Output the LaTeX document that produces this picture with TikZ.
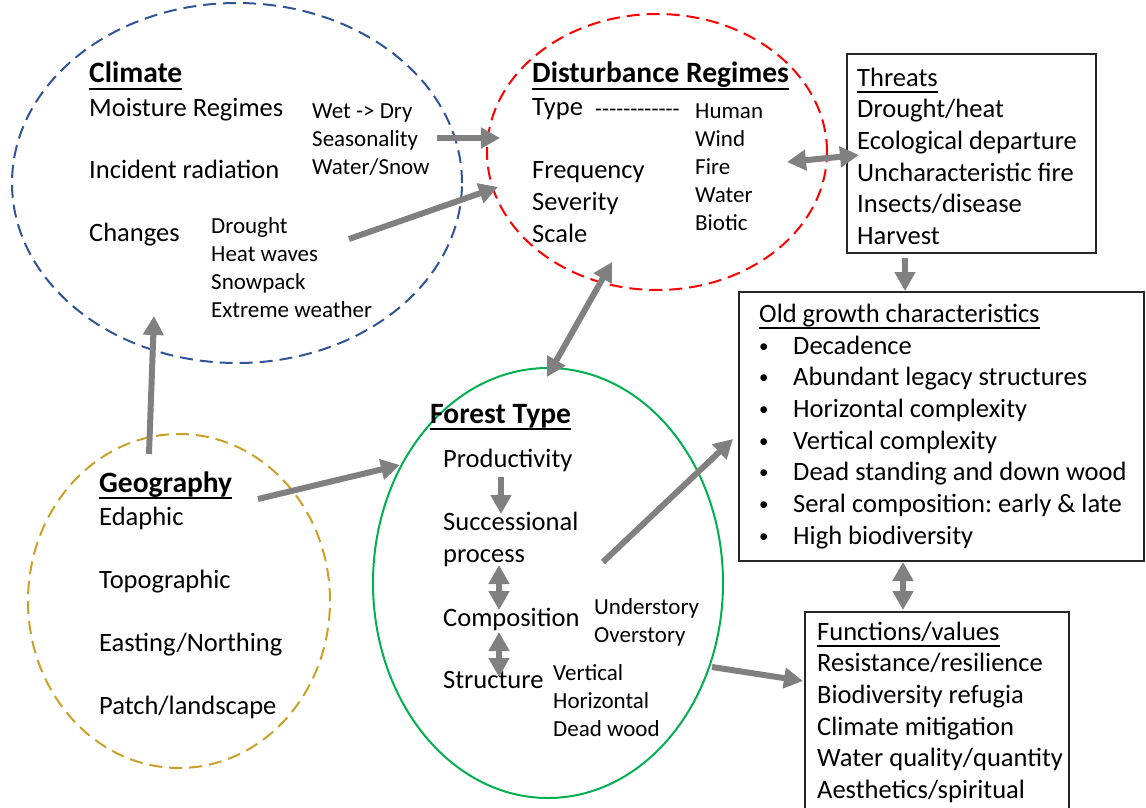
\documentclass[tikz,border=0pt]{standalone}
\usepackage{fontspec}
\setmainfont{Carlito}
\usetikzlibrary{shapes.geometric,arrows.meta}
\definecolor{climblue}{RGB}{47,85,151}
\definecolor{distred}{RGB}{255,0,0}
\definecolor{geogold}{RGB}{201,160,40}
\definecolor{forgreen}{RGB}{0,176,80}
\definecolor{arrgray}{RGB}{128,128,128}
\newsavebox{\ulbox}
\newcommand{\ulin}[1]{\sbox{\ulbox}{#1}\rlap{\vrule width\wd\ulbox height -5pt depth 6.6pt}\usebox{\ulbox}}
\frenchspacing

\begin{document}
\begin{tikzpicture}[x=1pt, y=-1pt,
	txt/.style={anchor=base west, inner sep=0pt, font=\fontsize{26.5}{31.7}\selectfont},
	sml/.style={anchor=base west, inner sep=0pt, font=\fontsize{23}{28}\selectfont},
	hd/.style={anchor=base west, inner sep=0pt, font=\fontsize{29.5}{34}\selectfont\bfseries},
	oval/.style={ellipse, inner sep=0pt, line width=2pt, dash pattern=on 13pt off 7pt},
	box/.style={rectangle, draw=black!85, line width=1.8pt, inner sep=0pt},
	arr/.style={draw=arrgray, line width=6pt, -{Triangle[length=19pt,width=20pt]}},
	darr/.style={draw=arrgray, line width=6pt, {Triangle[length=19pt,width=20pt]}-{Triangle[length=19pt,width=20pt]}}]
	
	\useasboundingbox (0,0) rectangle (1146,808);
	
	% ovals and boxes
	\node[oval, draw=climblue, minimum width=450pt, minimum height=360pt] (climate) at (237,183) {};
	\node[oval, draw=distred, minimum width=340pt, minimum height=276pt] (dist) at (657,152) {};
	\node[oval, draw=geogold, minimum width=302pt, minimum height=334pt] (geo) at (179,601) {};
	\node[ellipse, inner sep=0pt, draw=forgreen, line width=2pt, minimum width=350pt, minimum height=430pt] (forest) at (548,583) {};
	\node[box, minimum width=249pt, minimum height=199pt] (threats) at (971.5,153.5) {};
	\node[box, line width=2.6pt, minimum width=405pt, minimum height=269pt] (old) at (941.5,426.5) {};
	\node[box, minimum width=264pt, minimum height=218pt] (func) at (937,721) {};
	
	% Climate
	\node[hd] (climhd) at (89,83) {\ulin{Climate}};
	\foreach \t [count=\i from 0] in {Moisture Regimes, Incident radiation, Changes}
		\node[txt] (clim\i) at (89,{116+62.7*\i}) {\t};
	\foreach \t [count=\i from 0] in {Wet -> Dry, Seasonality, Water/Snow}
		\node[sml] (moist\i) at (312,{118+28*\i}) {\t};
	\foreach \t [count=\i from 0] in {Drought, Heat waves, Snowpack, Extreme weather}
		\node[sml] (chg\i) at (211,{233+28.3*\i}) {\t};
	
	% Disturbance regimes
	\node[hd] (disthd) at (532,83) {\ulin{Disturbance Regimes}};
	\node[txt] (type) at (532,115) {Type};
	\node[sml] (typedash) at (595,117) {-{}-{}-{}-{}-{}-{}-{}-{}-{}-{}-{}-};
	\foreach \t [count=\i from 0] in {Frequency, Severity, Scale}
		\node[txt] (freq\i) at (532,{178+32*\i}) {\t};
	\foreach \t [count=\i from 0] in {Human, Wind, Fire, Water, Biotic}
		\node[sml] (agent\i) at (695,{118+28.2*\i}) {\t};
	
	% Threats
	\node[txt] (thrhd) at (857,86) {\ulin{Threats}};
	\foreach \t [count=\i] in {Drought/heat, Ecological departure, Uncharacteristic fire, Insects/disease, Harvest}
		\node[txt] (thr\i) at (857,{86+31.7*\i}) {\t};
	
	% Old growth
	\node[txt] (oldhd) at (759,322) {\ulin{Old growth characteristics}};
	\foreach \t [count=\i from 0] in {Decadence, Abundant legacy structures, Horizontal complexity, Vertical complexity, Dead standing and down wood, Seral composition: early \& late, High biodiversity} {
		\node[txt, font=\fontsize{19}{20}\selectfont] (bul\i) at (759,{352+31.7*\i}) {•};
		\node[txt] (old\i) at (793,{354+31.7*\i}) {\t};
	}
	
	% Functions
	\node[txt] (funchd) at (817,640) {\ulin{Functions/values}};
	\foreach \t [count=\i] in {Resistance/resilience, Biodiversity refugia, Climate mitigation, Water quality/quantity, Aesthetics/spiritual}
		\node[txt] (fun\i) at (817,{640+31.7*\i}) {\t};
	
	% Geography
	\node[hd] (geohd) at (99,492) {\ulin{Geography}};
	\foreach \t [count=\i from 0] in {Edaphic, Topographic, Easting/Northing, Patch/landscape}
		\node[txt] (geo\i) at (99,{525+63.3*\i}) {\t};
	
	% Forest type
	\node[hd] (forhd) at (430,423) {\ulin{Forest Type}};
	\node[txt] (prod) at (443,467) {Productivity};
	\node[txt] (succ) at (443,530) {Successional};
	\node[txt] (proc) at (443,562) {process};
	\node[txt] (comp) at (443,626) {Composition};
	\node[txt] (struc) at (443,688) {Structure};
	\node[sml] (under) at (594,614) {Understory};
	\node[sml] (over) at (594,642) {Overstory};
	\foreach \t [count=\i from 0] in {Vertical, Horizontal, Dead wood}
		\node[sml] (str\i) at (553,{680+28*\i}) {\t};
	
	% arrow ends
	\coordinate (a1) at (437,138);   \coordinate (b1) at (500,138);
	\coordinate (a2) at (349,239);   \coordinate (b2) at (498,187);
	\coordinate (a3) at (787,162);   \coordinate (b3) at (859,155);
	\coordinate (a4) at (612,262);   \coordinate (b4) at (547,377);
	\coordinate (a5) at (905,258);   \coordinate (b5) at (905,291);
	\coordinate (a6) at (149,454);   \coordinate (b6) at (154,316);
	\coordinate (a7) at (258,499);   \coordinate (b7) at (400,465);
	\coordinate (a8) at (603,562);   \coordinate (b8) at (733,439);
	\coordinate (a9) at (903,562);   \coordinate (b9) at (903,610);
	\coordinate (a10) at (712,667);  \coordinate (b10) at (803,681);
	\coordinate (a11) at (501,477);  \coordinate (b11) at (501,514);
	\coordinate (a12) at (499,565);  \coordinate (b12) at (499,610);
	\coordinate (a13) at (499,632);  \coordinate (b13) at (499,677);
	
	\draw[arr] (a1) -- (b1);
	\draw[arr] (a2) -- (b2);
	\draw[darr] (a3) -- (b3);
	\draw[darr] (a4) -- (b4);
	\draw[arr] (a5) -- (b5);
	\draw[arr] (a6) -- (b6);
	\draw[arr] (a7) -- (b7);
	\draw[arr] (a8) -- (b8);
	\draw[darr] (a9) -- (b9);
	\draw[arr] (a10) -- (b10);
	\draw[arr] (a11) -- (b11);
	\draw[darr] (a12) -- (b12);
	\draw[darr] (a13) -- (b13);
	
\end{tikzpicture}
\end{document}
